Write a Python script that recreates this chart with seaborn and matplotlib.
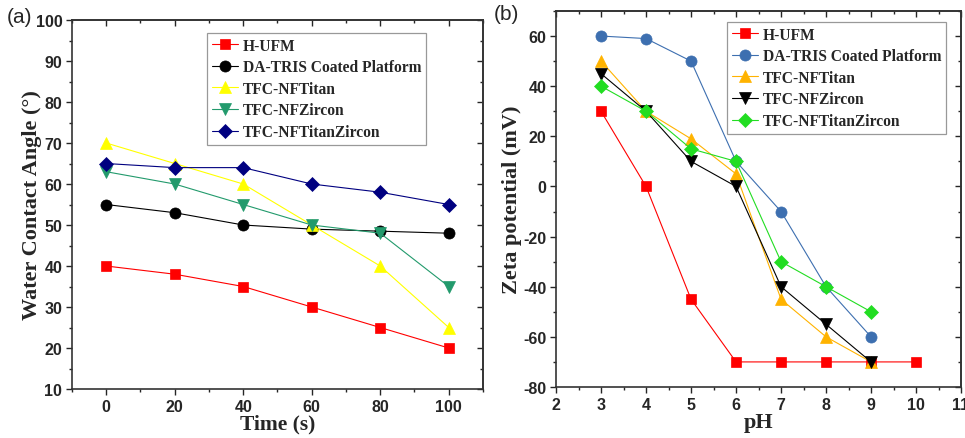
import numpy as np
import pandas as pd
import seaborn as sns
import matplotlib.pyplot as plt
from matplotlib.ticker import MultipleLocator

# Données
series = ["H-UFM", "DA-TRIS Coated Platform", "TFC-NFTitan", "TFC-NFZircon", "TFC-NFTitanZircon"]

time_s = [0, 20, 40, 60, 80, 100]
wca_hufm = [40, 38, 35, 30, 25, 20]
wca_datris = [55, 53, 50, 49, 48.5, 48]
wca_titan = [70, 65, 60, 50, 40, 25]
wca_zircon = [63, 60, 55, 50, 48, 35]
wca_titanzircon = [65, 64, 64, 60, 58, 55]

ph_hufm = [3, 4, 5, 6, 7, 8, 9, 10]
zeta_hufm = [30, 0, -45, -70, -70, -70, -70, -70]
ph_other = [3, 4, 5, 6, 7, 8, 9]
zeta_datris = [60, 59, 50, 10, -10, -40, -60]
zeta_titan = [50, 30, 19, 5, -45, -60, -70]
zeta_zircon = [45, 30, 10, 0, -40, -55, -70]
zeta_titanzircon = [40, 30, 15, 10, -30, -40, -50]

colors_a = ["#ff0000", "#000000", "#ffff00", "#229a6c", "#000080"]
colors_b = ["#ff0000", "#3d6fb0", "#ffb300", "#000000", "#22dd22"]
markers = ["s", "o", "^", "v", "D"]
msizes = [7, 8, 8, 8, 7]


def long_frame(xs, ys):
    rows = []
    for name, x, y in zip(series, xs, ys):
        for xi, yi in zip(x, y):
            rows.append({"serie": name, "x": xi, "y": yi})
    return pd.DataFrame(rows)


df_a = long_frame([time_s] * 5, [wca_hufm, wca_datris, wca_titan, wca_zircon, wca_titanzircon])
df_b = long_frame([ph_hufm] + [ph_other] * 4, [zeta_hufm, zeta_datris, zeta_titan, zeta_zircon, zeta_titanzircon])

sns.set_style("ticks")
plt.rcParams['font.family'] = ['Liberation Sans', 'DejaVu Sans']
plt.rcParams['axes.unicode_minus'] = False

fig = plt.figure(figsize=(9.65, 4.39), dpi=100)
ax1 = fig.add_axes([0.0746, 0.1116, 0.4259, 0.8405])
ax2 = fig.add_axes([0.5762, 0.1162, 0.4197, 0.8565])

serif = ['Liberation Serif', 'DejaVu Serif']


def draw(ax, df, colors, anchor, xmaj, xmin, ymaj, ymin):
    for i, name in enumerate(series):
        d = df[df["serie"] == name]
        sns.lineplot(data=d, x="x", y="y", ax=ax, color=colors[i], lw=0.8,
                     marker=markers[i], markersize=msizes[i], markeredgecolor=colors[i],
                     markeredgewidth=0.5, label=name, sort=False, estimator=None)
    leg = ax.legend(loc="upper right", bbox_to_anchor=anchor, borderaxespad=0,
                    prop={'family': serif, 'weight': 'bold', 'size': 11.2},
                    frameon=True, fancybox=False, edgecolor="#808080", handlelength=1.7,
                    handletextpad=0.3, labelspacing=0.36, borderpad=0.3)
    leg.get_frame().set_linewidth(0.9)
    ax.xaxis.set_major_locator(MultipleLocator(xmaj))
    ax.xaxis.set_minor_locator(MultipleLocator(xmin))
    ax.yaxis.set_major_locator(MultipleLocator(ymaj))
    ax.yaxis.set_minor_locator(MultipleLocator(ymin))
    ax.tick_params(which="both", direction="out", width=1.0, top=False, right=False, pad=3)
    ax.tick_params(which="major", length=4, labelsize=11.5)
    ax.tick_params(which="minor", length=2.5)
    for lab in ax.get_xticklabels() + ax.get_yticklabels():
        lab.set_fontweight("bold")
    for sp in ax.spines.values():
        sp.set_linewidth(1.2)
        sp.set_color("#333333")
    # ticks vers l'intérieur en haut et à droite
    top = ax.secondary_xaxis('top')
    top.xaxis.set_major_locator(MultipleLocator(xmaj))
    top.xaxis.set_minor_locator(MultipleLocator(xmin))
    top.tick_params(which="both", direction="in", labeltop=False, width=1.0)
    top.tick_params(which="major", length=4)
    top.tick_params(which="minor", length=2.5)
    right = ax.secondary_yaxis('right')
    right.yaxis.set_major_locator(MultipleLocator(ymaj))
    right.yaxis.set_minor_locator(MultipleLocator(ymin))
    right.tick_params(which="both", direction="in", labelright=False, width=1.0)
    right.tick_params(which="major", length=4)
    right.tick_params(which="minor", length=2.5)
    for s in (top, right):
        for sp in s.spines.values():
            sp.set_linewidth(1.2)
            sp.set_color("#333333")


ax1.set_xlim(-10, 110)
ax1.set_ylim(10, 100)
draw(ax1, df_a, colors_a, (0.861, 0.965), 20, 10, 10, 5)
ax1.set_xlabel("Time (s)", family=serif, weight="bold", fontsize=15.5, labelpad=0)
ax1.set_ylabel("Water Contact Angle (°)", family=serif, weight="bold", fontsize=16)
ax1.yaxis.set_label_coords(-0.073, 0.5)
fig.text(0.007, 0.982, "(a)", fontsize=15, va="top")

ax2.set_xlim(2, 11)
ax2.set_ylim(-80, 70)
draw(ax2, df_b, colors_b, (0.963, 0.971), 1, 0.5, 20, 10)
ax2.set_xlabel("pH", family=serif, weight="bold", fontsize=16, labelpad=0)
ax2.set_ylabel("Zeta potential (mV)", family=serif, weight="bold", fontsize=16)
ax2.yaxis.set_label_coords(-0.084, 0.5)
fig.text(0.512, 0.989, "(b)", fontsize=15, va="top")

fig.savefig("out.png", dpi=100)
